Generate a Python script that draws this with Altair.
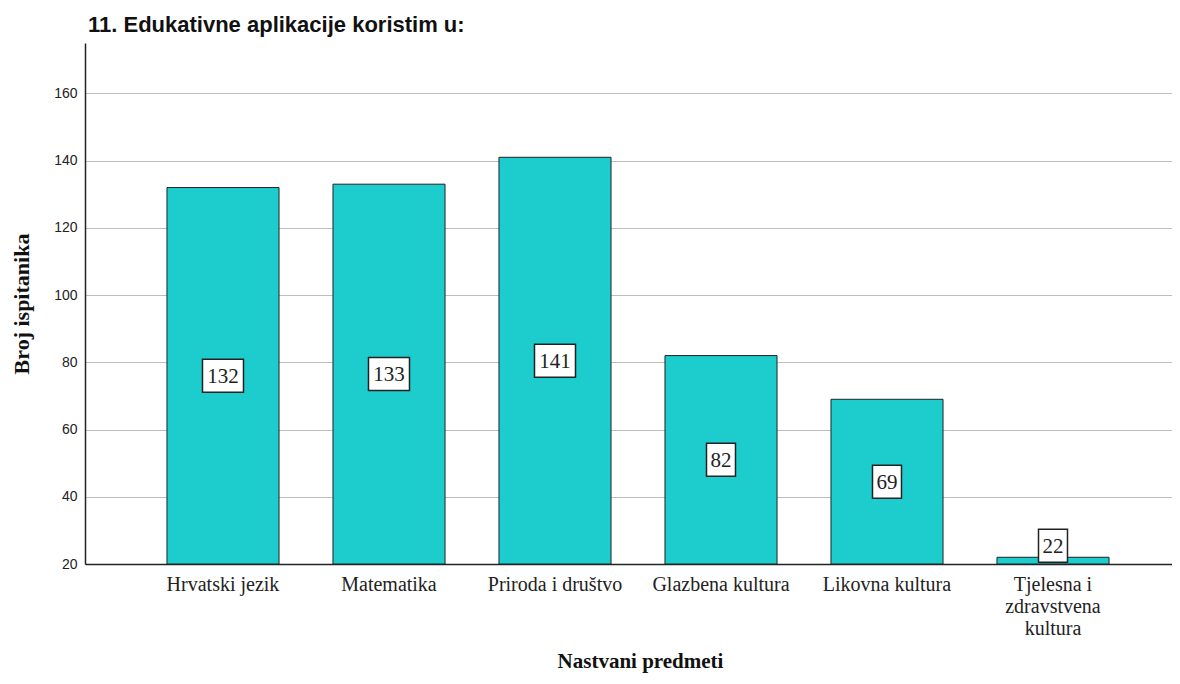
import altair as alt
import pandas as pd

categories = ["Hrvatski jezik", "Matematika", "Priroda i društvo",
              "Glazbena kultura", "Likovna kultura", "Tjelesna i zdravstvena kultura"]
counts = [132, 133, 141, 82, 69, 22]
y_ticks = [20, 40, 60, 80, 100, 120, 140, 160]

BASE = 20
df = pd.DataFrame({"cat": categories, "n": counts})
df["pos"] = [max((v + BASE) / 2, 25.4) for v in counts]
df["digits"] = [str(len(str(v))) for v in counts]

W, H = 1087, 521

x = alt.X("cat:N", sort=categories, title="Nastvani predmeti",
          scale=alt.Scale(paddingInner=0.325, paddingOuter=0.4366, align=0.5655),
          axis=alt.Axis(labelAngle=0, labelFont="Liberation Serif", labelFontSize=20,
                        labelColor="#222", labelPadding=10, labelBaseline="top",
                        labelLineHeight=22, ticks=False, domainColor="#222", domainWidth=1.5,
                        labelExpr="datum.label == 'Tjelesna i zdravstvena kultura' ? ['Tjelesna i', 'zdravstvena', 'kultura'] : datum.label",
                        titleFont="Liberation Serif", titleFontSize=21, titleFontWeight="bold",
                        titleColor="#111", titleX=555, titleY=103, titleBaseline="alphabetic",
                        titleAlign="center"))

y = alt.Y("n:Q", title="Broj ispitanika",
          scale=alt.Scale(domain=[20, 175], zero=False, nice=False),
          axis=alt.Axis(values=y_ticks, grid=True, gridColor="#BEBEBE", gridWidth=1,
                        ticks=False, labelFont="Liberation Sans", labelFontSize=14,
                        labelColor="#222", labelPadding=8, domainColor="#222", domainWidth=1.5,
                        titleFont="Liberation Serif", titleFontSize=22, titleFontWeight="bold",
                        titleColor="#111", titleX=-57, titleY=H / 2, titleAngle=-90,
                        titleBaseline="alphabetic", titleAlign="center"))

bars = alt.Chart(df).mark_bar(color="#1DCDCD", stroke="#222", strokeWidth=1).encode(
    x=x, y=y, y2=alt.datum(BASE))

path3 = "M-1,-0.805L1,-0.805L1,0.805L-1,0.805Z"
path2 = "M-0.707,-0.805L0.707,-0.805L0.707,0.805L-0.707,0.805Z"

boxes = alt.Chart(df).mark_point(filled=True, fill="white", stroke="#222", strokeWidth=1.5,
                                 opacity=1, size=1681).encode(
    x=alt.X("cat:N", sort=categories),
    y=alt.Y("pos:Q"),
    shape=alt.Shape("digits:N", scale=alt.Scale(domain=["2", "3"], range=[path2, path3]),
                    legend=None))

texts = alt.Chart(df).mark_text(font="Liberation Serif", fontSize=21, color="#222",
                                baseline="middle", dy=1).encode(
    x=alt.X("cat:N", sort=categories),
    y=alt.Y("pos:Q"),
    text="n:Q")

chart = alt.layer(bars, boxes, texts).properties(
    width=W, height=H,
    background="white",
    title=alt.TitleParams("11. Edukativne aplikacije koristim u:", anchor="start", frame="group",
                          font="Liberation Sans", fontSize=22, fontWeight="bold", color="#111",
                          dx=3, offset=6),
    autosize=alt.AutoSizeParams(type="none"),
    padding={"left": 77, "top": 35, "right": 0, "bottom": 112},
).configure_view(strokeWidth=0, stroke="transparent")

chart.save("out.html", embed_options={"renderer": "svg", "actions": False})
